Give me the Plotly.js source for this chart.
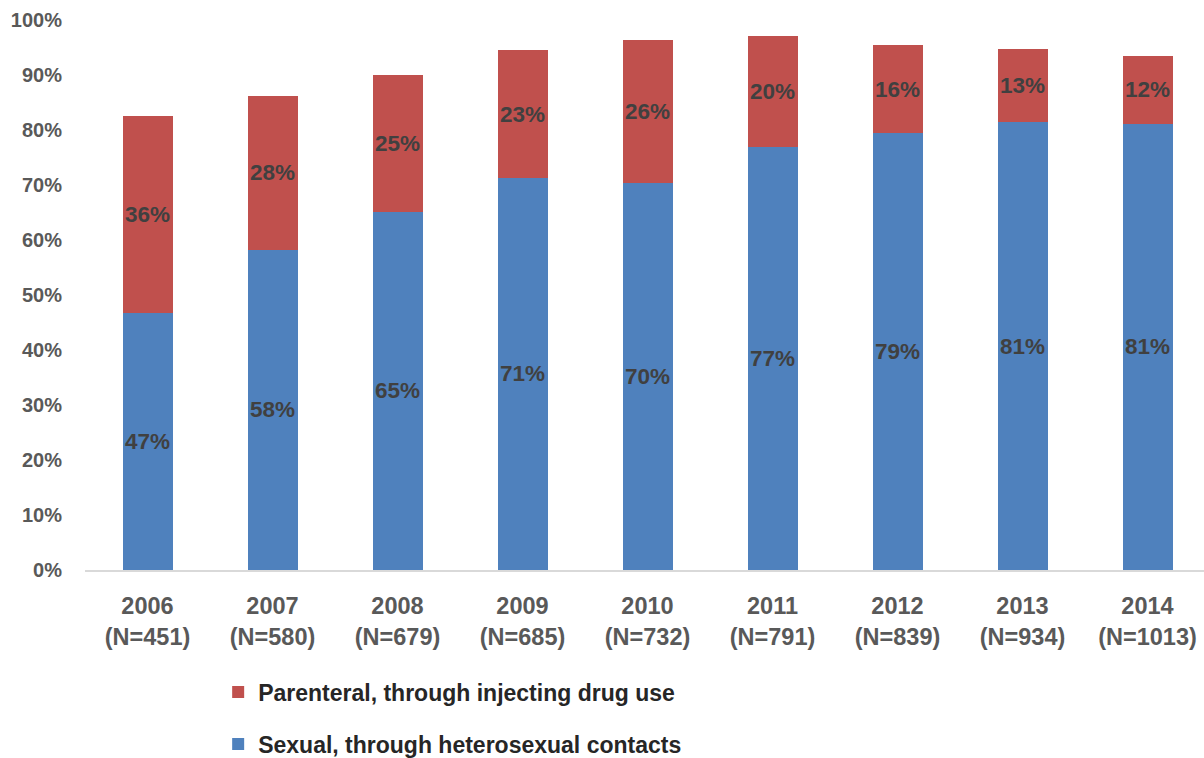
<!DOCTYPE html>
<html>
<head>
<meta charset="utf-8">
<script src="https://cdn.plot.ly/plotly-3.0.1.min.js"></script>
<style>html,body{margin:0;padding:0;background:#fff;}#chart{width:1204px;height:758px;}</style>
</head>
<body>
<div id="chart"></div>
<script>
const categories = ["2006<br>(N=451)","2007<br>(N=580)","2008<br>(N=679)","2009<br>(N=685)","2010<br>(N=732)","2011<br>(N=791)","2012<br>(N=839)","2013<br>(N=934)","2014<br>(N=1013)"];
const sexualValues = [46.7, 58.2, 65.1, 71.3, 70.4, 76.9, 79.4, 81.4, 81.1];
const parenteralValues = [35.8, 28.0, 24.9, 23.2, 26.0, 20.2, 16.0, 13.4, 12.4];
const sexualLabels = ["47%","58%","65%","71%","70%","77%","79%","81%","81%"];
const parenteralLabels = ["36%","28%","25%","23%","26%","20%","16%","13%","12%"];
const seriesNames = ["Sexual, through heterosexual contacts","Parenteral, through injecting drug use"];

const FONT = "Liberation Sans, Arial, sans-serif";
const labelFont = {family: FONT, size: 22.5, color: "#404040", weight: "bold"};

const traces = [
  {
    type: "bar", name: seriesNames[0], x: categories, y: sexualValues,
    text: sexualLabels, texttemplate: "<b>%{text}</b>", textposition: "inside",
    insidetextanchor: "middle", constraintext: "none", textangle: 0,
    textfont: labelFont, marker: {color: "#4F81BD"},
    legendgroup: "a", legendrank: 2, hoverinfo: "skip"
  },
  {
    type: "bar", name: seriesNames[1], x: categories, y: parenteralValues,
    text: parenteralLabels, texttemplate: "<b>%{text}</b>", textposition: "inside",
    insidetextanchor: "middle", constraintext: "none", textangle: 0,
    textfont: labelFont, marker: {color: "#C0504D"},
    legendgroup: "b", legendrank: 1, hoverinfo: "skip"
  }
];

const layout = {
  width: 1204, height: 758,
  margin: {l: 85, r: 0, t: 20, b: 188, autoexpand: false},
  paper_bgcolor: "#fff", plot_bgcolor: "#fff",
  barmode: "stack", bargap: 0.6,
  font: {family: FONT, color: "#595959"},
  xaxis: {
    type: "category", range: [-0.5, 8.452],
    showline: true, linecolor: "#D9D9D9", linewidth: 2,
    showgrid: false, zeroline: false, ticks: "",
    ticklabelstandoff: 14, automargin: false,
    tickfont: {family: FONT, size: 23.5, color: "#595959", weight: "bold"}
  },
  yaxis: {
    range: [0, 100], dtick: 10, ticksuffix: "%",
    showgrid: false, zeroline: false, showline: false, ticks: "",
    ticklabelstandoff: 22, automargin: false,
    tickfont: {family: FONT, size: 20, color: "#595959", weight: "bold"}
  },
  showlegend: true,
  legend: {
    orientation: "v", x: 0.119, xanchor: "left", y: -0.183, yanchor: "top",
    traceorder: "grouped", tracegroupgap: 19,
    font: {family: FONT, size: 23, color: "#262626", weight: "bold"},
    bgcolor: "rgba(0,0,0,0)"
  }
};

Plotly.newPlot("chart", traces, layout, {displayModeBar: false, staticPlot: true});
</script>
</body>
</html>
